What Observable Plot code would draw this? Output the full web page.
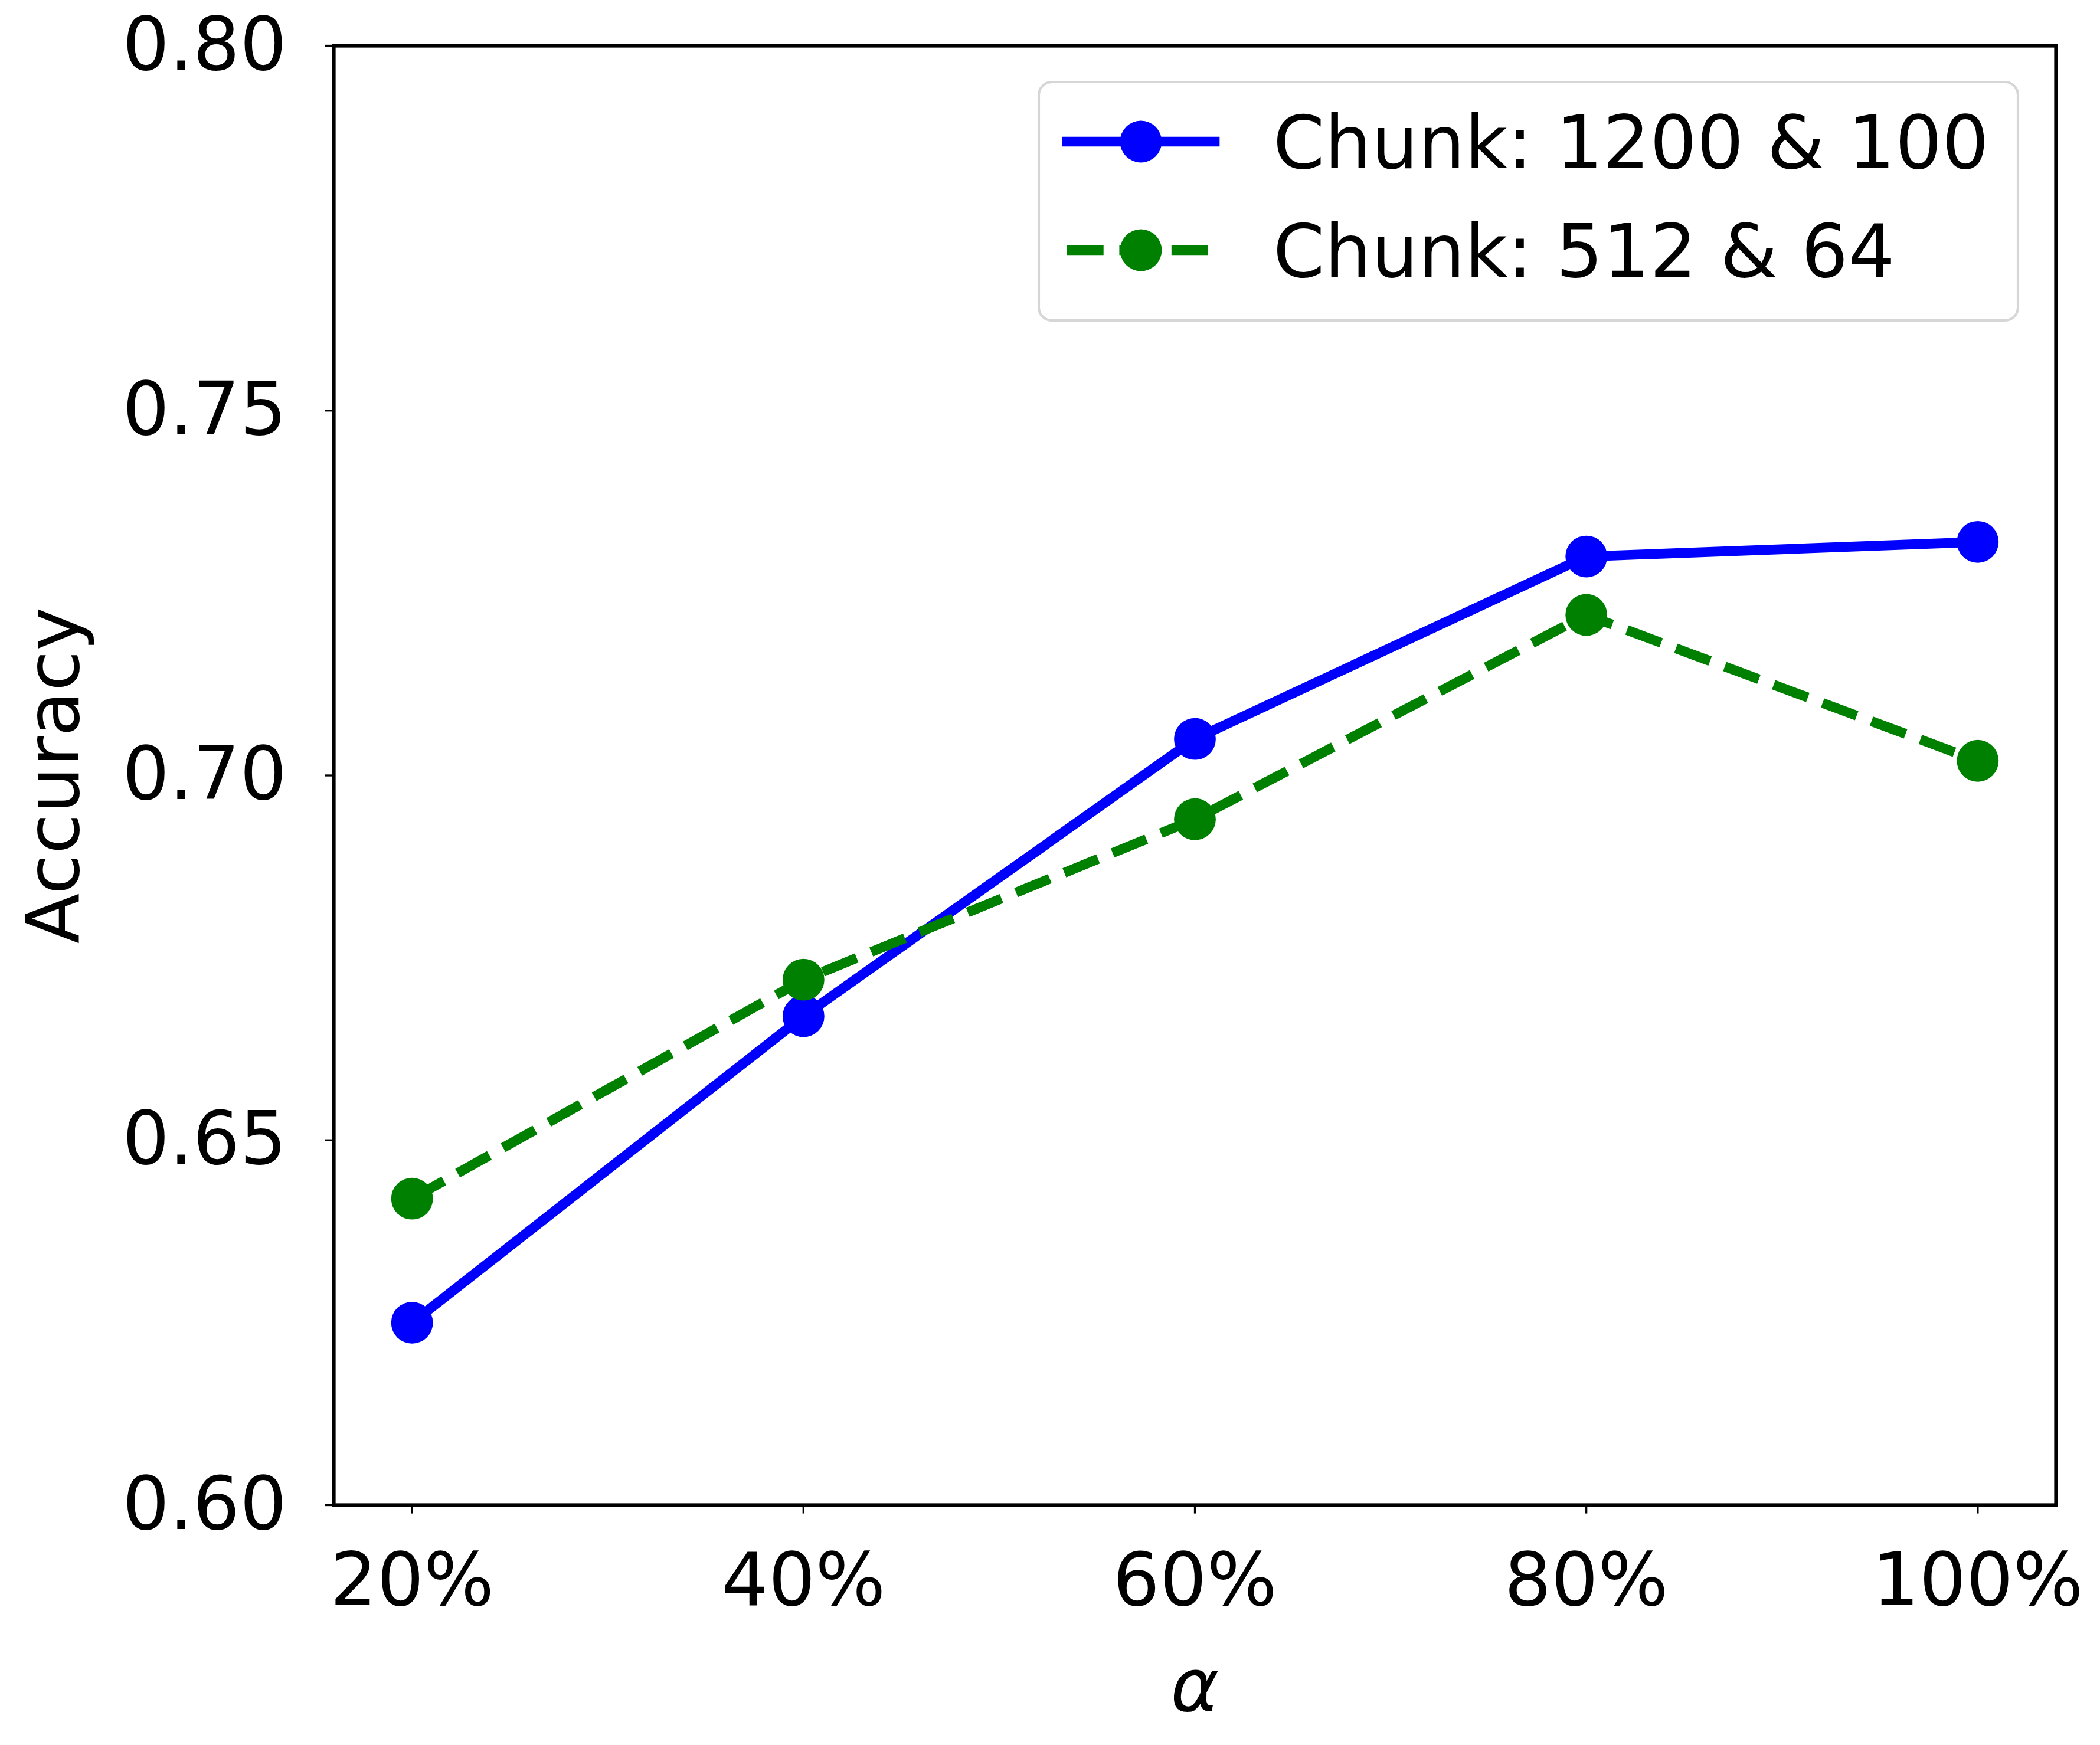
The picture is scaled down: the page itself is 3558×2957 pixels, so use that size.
<!DOCTYPE html>
<html><head><meta charset="utf-8">
<script src="https://cdn.jsdelivr.net/npm/d3@7"></script>
<script src="https://cdn.jsdelivr.net/npm/@observablehq/plot@0.6"></script>
<style>body{margin:0;background:#fff}</style>
</head><body><div id="chart"></div>
<script>
const alphaPct = [20, 40, 60, 80, 100];
const seriesNames = ["Chunk: 1200 & 100", "Chunk: 512 & 64"];
const seriesColors = ["#0000ff", "#008000"];
const chunk1200 = [0.625, 0.667, 0.705, 0.730, 0.732];
const chunk512 = [0.642, 0.672, 0.694, 0.722, 0.702];
const yTicks = [0.60, 0.65, 0.70, 0.75, 0.80];
const xLabel = "α";
const yLabel = "Accuracy";

const blue = alphaPct.map((a, i) => ({series: seriesNames[0], alpha: a, acc: chunk1200[i]}));
const green = alphaPct.map((a, i) => ({series: seriesNames[1], alpha: a, acc: chunk512[i]}));

const LW = 16.7, R = 35.4, DASH = "61.7,26.7";

const plot = Plot.plot({
  width: 3558, height: 2957,
  marginLeft: 565, marginRight: 75, marginTop: 77, marginBottom: 407,
  style: {fontFamily: "DejaVu Sans", fontSize: "125px", background: "white", color: "black"},
  x: {domain: [16, 104]},
  y: {domain: [0.6, 0.8]},
  marks: [
    Plot.axisY(yTicks, {tickSize: 14.6, tickPadding: 65, tickFormat: d => d.toFixed(2), fontSize: 125, strokeWidth: 3.3, label: null}),
    Plot.axisX(alphaPct, {tickSize: 14.6, tickPadding: 66, tickFormat: d => d + "%", fontSize: 125, strokeWidth: 3.3, label: null}),
    Plot.line(blue, {x: "alpha", y: "acc", stroke: seriesColors[0], strokeWidth: LW, strokeLinecap: "square", strokeLinejoin: "round"}),
    Plot.dot(blue, {x: "alpha", y: "acc", r: R, fill: seriesColors[0]}),
    Plot.line(green, {x: "alpha", y: "acc", stroke: seriesColors[1], strokeWidth: LW, strokeDasharray: DASH, strokeLinecap: "butt", strokeLinejoin: "round"}),
    Plot.dot(green, {x: "alpha", y: "acc", r: R, fill: seriesColors[1]}),
    Plot.frame({stroke: "black", strokeWidth: 6.25}),
    Plot.text([yLabel], {text: d => d, frameAnchor: "left", textAnchor: "middle", lineAnchor: "middle", rotate: -90, dx: -473, fontSize: 125}),
    Plot.text([xLabel], {text: d => d, frameAnchor: "bottom", textAnchor: "middle", lineAnchor: "middle", dy: 308, fontSize: 125, fontStyle: "italic"})
  ]
});
document.getElementById("chart").appendChild(plot);

// Legend (inside the plot, upper right)
const svg = d3.select(plot);
const lg = svg.append("g").attr("font-family", "DejaVu Sans").attr("font-size", 125).attr("text-anchor", "start");
lg.append("rect").attr("x", 1760).attr("y", 139).attr("width", 1659).attr("height", 404)
  .attr("rx", 22).attr("fill", "white").attr("fill-opacity", 0.8)
  .attr("stroke", "#d6d6d6").attr("stroke-width", 4.17);
const rows = [240, 424];
seriesNames.forEach((name, i) => {
  const y = rows[i];
  const ln = lg.append("line").attr("x1", 1808).attr("x2", 2058).attr("y1", y).attr("y2", y)
    .attr("stroke", seriesColors[i]).attr("stroke-width", LW);
  if (i === 0) ln.attr("stroke-linecap", "square");
  else ln.attr("stroke-dasharray", DASH).attr("stroke-linecap", "butt");
  lg.append("circle").attr("cx", 1933).attr("cy", y).attr("r", R).attr("fill", seriesColors[i]);
  lg.append("text").attr("x", 2157).attr("y", y + 45).attr("text-anchor", "start").attr("fill", "black").text(name);
});
</script>
</body></html>
